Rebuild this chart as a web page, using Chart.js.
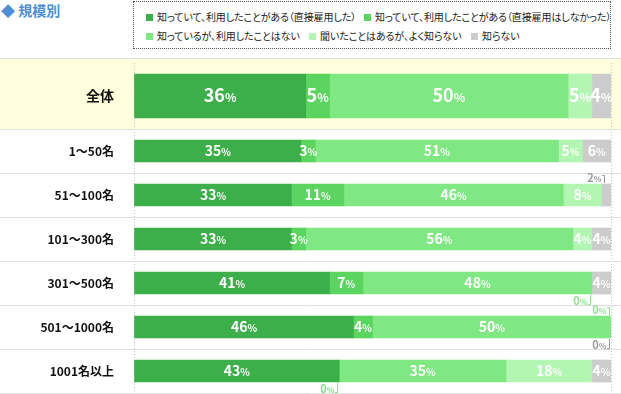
<!DOCTYPE html>
<html lang="ja">
<head>
<meta charset="utf-8">
<script src="https://cdn.jsdelivr.net/npm/chart.js@4.4.1/dist/chart.umd.min.js"></script>
<style>
  body { margin: 0; width: 621px; height: 394px; overflow: hidden; background: #fff; position: relative;
         font-family: 'Noto Sans CJK JP', sans-serif; }
  #title { position: absolute; left: 1px; top: 1px; font-size: 14px; font-weight: bold; color: #4d8fd6; line-height: 18px; }
  #legend { position: absolute; left: 133px; top: 1px; width: 476px; height: 46px; border: 1px dotted #555; }
  .item { position: absolute; font-size: 10px; color: #222; white-space: nowrap; line-height: 12px;
          font-feature-settings: 'palt'; letter-spacing: -0.1px; }
  .item i { display: inline-block; width: 7px; height: 7px; margin-right: 4px; }
  #hr { position: absolute; left: 0; top: 58px; width: 621px; height: 1px; background: #dedede; }
  #totalWrap { position: absolute; left: 0; top: 59px; width: 621px; height: 70px; background: #ffffdd; }
  #groupWrap { position: absolute; left: 0; top: 129px; width: 621px; height: 265px; }
</style>
</head>
<body>
<div id="title">◆ 規模別</div>
<div id="legend"></div>
<div id="hr"></div>
<div id="totalWrap"><canvas id="chartTotal"></canvas></div>
<div id="groupWrap"><canvas id="chartGroups"></canvas></div>
<script>
(function () {
  'use strict';

  /* ---------- data ---------- */
  const SERIES = [
    '知っていて、利用したことがある（直接雇用した）',
    '知っていて、利用したことがある（直接雇用はしなかった）',
    '知っているが、利用したことはない',
    '聞いたことはあるが、よく知らない',
    '知らない',
  ];
  const TOTAL_LABELS = ['全体'];
  const TOTAL_VALUES = [36, 5, 50, 5, 4];

  const SIZE_LABELS = ['1～50名', '51～100名', '101～300名', '301～500名', '501～1000名', '1001名以上'];
  const HIRED       = [35, 33, 33, 41, 46, 43];
  const NOT_HIRED   = [3, 11, 3, 7, 4, 0];
  const NEVER_USED  = [51, 46, 56, 48, 50, 35];
  const HEARD_ONLY  = [5, 8, 4, 0, 0, 18];
  const UNKNOWN     = [6, 2, 4, 4, 0, 4];

  /* ---------- style ---------- */
  const COLORS     = ['#3daf4a', '#5cd460', '#7fe883', '#b3f5b3', '#cccccc'];
  const OUT_COLORS = ['#3daf4a', '#86dc88', '#86e38a', '#8fe290', '#9a9a9a'];
  const FONT = "'Noto Sans CJK JP', sans-serif";
  // side for labels of tiny segments (row-dataset)
  const OUT_SIDE = { '1-4': 'up', '3-3': 'down', '4-3': 'up', '4-4': 'down', '5-1': 'down' };
  const LEGEND_POS = [[12, 9], [230, 9], [12, 28], [175, 28], [337, 28]];

  /* ---------- legend (html) ---------- */
  const legend = document.getElementById('legend');
  SERIES.forEach((name, i) => {
    const el = document.createElement('div');
    el.className = 'item';
    el.style.left = LEGEND_POS[i][0] + 'px';
    el.style.top = LEGEND_POS[i][1] + 'px';
    el.innerHTML = '<i style="background:' + COLORS[i] + '"></i>' + name;
    legend.appendChild(el);
  });

  /* ---------- plugins ---------- */
  const rowLines = {
    id: 'rowLines',
    beforeDatasetsDraw(chart, args, opts) {
      if (!opts.on) return;
      const y = chart.scales.y;
      const n = chart.data.labels.length;
      const step = (y.bottom - y.top) / n;
      const ctx = chart.ctx;
      ctx.save();
      ctx.strokeStyle = '#dedede';
      ctx.lineWidth = 1;
      for (let k = 0; k <= n; k++) {
        const py = Math.round(y.top + k * step) + 0.5;
        ctx.beginPath();
        ctx.moveTo(0, py);
        ctx.lineTo(chart.width, py);
        ctx.stroke();
      }
      ctx.restore();
    },
  };

  const barLabels = {
    id: 'barLabels',
    afterDatasetsDraw(chart, args, opts) {
      const ctx = chart.ctx;
      ctx.save();
      ctx.textBaseline = 'alphabetic';
      ctx.textAlign = 'left';
      chart.data.datasets.forEach((ds, di) => {
        const meta = chart.getDatasetMeta(di);
        meta.data.forEach((bar, i) => {
          const v = ds.data[i];
          const txt = String(v);
          const left = Math.min(bar.x, bar.base);
          const right = Math.max(bar.x, bar.base);
          const top = bar.y - bar.height / 2;
          const bottom = bar.y + bar.height / 2;
          if (v >= 3) {
            ctx.font = 'bold ' + opts.num + 'px ' + FONT;
            const w1 = ctx.measureText(txt).width;
            ctx.font = 'bold ' + opts.pct + 'px ' + FONT;
            const w2 = ctx.measureText('%').width;
            const x0 = (left + right) / 2 - (w1 + w2) / 2;
            const base = bar.y + opts.num * 0.36;
            ctx.fillStyle = '#fff';
            ctx.font = 'bold ' + opts.num + 'px ' + FONT;
            ctx.fillText(txt, x0, base);
            ctx.font = 'bold ' + opts.pct + 'px ' + FONT;
            ctx.fillText('%', x0 + w1, base);
          } else {
            const side = OUT_SIDE[i + '-' + di] || 'down';
            const cx = Math.round((left + right) / 2) - 1.5;
            const ty = side === 'up' ? top - 6 : bottom + 7;
            ctx.font = 'bold 11px ' + FONT;
            const w1 = ctx.measureText(txt).width;
            ctx.font = 'bold 8px ' + FONT;
            const w2 = ctx.measureText('%').width;
            const xr = cx - 3;
            const x0 = xr - w1 - w2;
            ctx.fillStyle = OUT_COLORS[di];
            ctx.font = 'bold 11px ' + FONT;
            ctx.fillText(txt, x0, ty + 4);
            ctx.font = 'bold 8px ' + FONT;
            ctx.fillText('%', x0 + w1, ty + 4);
            ctx.strokeStyle = OUT_COLORS[di];
            ctx.lineWidth = 1;
            ctx.beginPath();
            if (side === 'up') {
              ctx.moveTo(xr + 0.5, Math.round(ty - 3) + 0.5);
              ctx.lineTo(cx, Math.round(ty - 3) + 0.5);
              ctx.lineTo(cx, top - 1);
            } else {
              ctx.moveTo(cx, bottom + 1);
              ctx.lineTo(cx, Math.round(ty + 3) + 0.5);
              ctx.lineTo(xr + 0.5, Math.round(ty + 3) + 0.5);
            }
            ctx.stroke();
          }
        });
      });
      ctx.restore();
    },
  };

  function makeOptions(labelFont, num, pct, padTop, padBottom, lines) {
    return {
      indexAxis: 'y',
      responsive: true,
      maintainAspectRatio: false,
      animation: false,
      layout: { padding: { top: padTop, bottom: padBottom, right: 10, left: 0 } },
      plugins: {
        legend: { display: false },
        tooltip: { enabled: false },
        barLabels: { num: num, pct: pct },
        rowLines: { on: lines },
      },
      scales: {
        x: {
          stacked: true, min: 0, max: 100,
          ticks: { display: false, stepSize: 100 },
          grid: { color: '#c4c4c4', drawTicks: false },
          border: { display: false, dash: [1, 2] },
        },
        y: {
          stacked: true,
          grid: { display: false },
          border: { display: false },
          ticks: { color: '#111', padding: 12, font: { family: FONT, weight: 'bold', size: labelFont } },
          afterFit: (s) => {
            s.width = 134;
            s.paddingTop = 0;     // rows fill the whole canvas height
            s.paddingBottom = 0;
          },
        },
      },
    };
  }

  function init() {
    if (typeof Chart === 'undefined') { setTimeout(init, 50); return; }

    new Chart(document.getElementById('chartTotal'), {
      type: 'bar',
      data: {
        labels: TOTAL_LABELS,
        datasets: SERIES.map((name, i) => ({
          label: name, data: [TOTAL_VALUES[i]], backgroundColor: COLORS[i],
          borderWidth: 0, barThickness: 44,
        })),
      },
      options: makeOptions(14, 18, 12, 4, 0, false),
      plugins: [barLabels, rowLines],
    });

    const groupSeries = [HIRED, NOT_HIRED, NEVER_USED, HEARD_ONLY, UNKNOWN];
    new Chart(document.getElementById('chartGroups'), {
      type: 'bar',
      data: {
        labels: SIZE_LABELS,
        datasets: SERIES.map((name, i) => ({
          label: name, data: groupSeries[i], backgroundColor: COLORS[i],
          borderWidth: 0, barThickness: 22,
        })),
      },
      options: makeOptions(12, 14, 10, 0, 1, true),
      plugins: [barLabels, rowLines],
    });
  }

  init();
})();
</script>
</body>
</html>
